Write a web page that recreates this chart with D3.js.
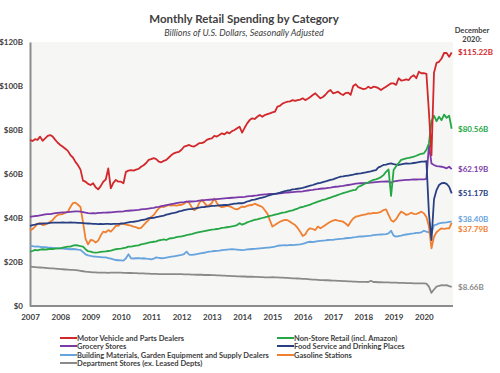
<!DOCTYPE html>
<html>
<head>
<meta charset="utf-8">
<script src="https://cdn.jsdelivr.net/npm/d3@7"></script>
<style>
  body { margin: 0; background: #fff; }
  svg text { font-family: Lato, "Open Sans", sans-serif; fill: #404040; }
</style>
</head>
<body>
<div id="SVG_CONTAINER"></div>
<script>
// monthly values, Jan 2007 .. Dec 2020 ($ billions), one row per year
const motorVehicle = [
  75.5, 75.0, 75.8, 75.5, 77.0, 75.1, 76.2, 77.3, 77.7, 77.0, 75.5, 74.2,
  73.2, 72.4, 71.5, 70.5, 68.6, 67.5, 65.5, 64.0, 62.0, 57.0, 56.5, 55.5,
  55.0, 55.8, 54.0, 53.0, 54.5, 56.5, 57.5, 62.5, 53.5, 56.0, 57.3, 56.5,
  56.5, 55.8, 61.0, 61.5, 61.8, 61.5, 62.0, 62.3, 63.3, 64.0, 65.0, 66.4,
  66.8, 67.2, 66.8, 65.6, 65.3, 66.0, 66.4, 67.5, 68.6, 69.4, 69.8, 70.1,
  71.0, 72.4, 72.8, 73.2, 72.7, 72.5, 73.2, 74.0, 74.0, 74.5, 75.5, 76.0,
  76.2, 77.3, 77.0, 77.7, 78.5, 78.0, 79.0, 78.5, 79.5, 80.0, 80.8, 81.5,
  78.8, 81.0, 83.0, 84.5, 85.3, 85.0, 86.0, 86.8, 86.0, 86.8, 87.2, 87.6,
  88.0, 88.3, 90.6, 91.0, 92.0, 92.5, 92.9, 93.0, 93.6, 93.2, 93.6, 93.8,
  94.4, 93.6, 94.2, 95.0, 95.9, 96.7, 95.5, 94.4, 95.0, 96.0, 97.4, 98.2,
  96.7, 97.0, 97.4, 96.5, 95.9, 96.8, 97.0, 96.0, 100.0, 100.8, 99.5, 99.0,
  98.6, 98.8, 99.7, 99.0, 99.7, 99.5, 99.0, 98.2, 99.0, 99.7, 100.5, 101.2,
  101.2, 100.5, 103.5, 102.5, 102.7, 103.0, 102.7, 104.2, 104.9, 103.5, 106.5, 105.8,
  105.8, 105.5, 88.0, 68.5, 106.0, 110.5, 111.0, 112.5, 115.0, 115.0, 113.3, 115.22
];
const nonStore = [
  24.7, 25.0, 25.5, 25.3, 25.6, 25.8, 25.6, 25.8, 26.0, 25.9, 26.1, 26.2,
  26.2, 26.5, 26.8, 27.0, 27.0, 27.4, 27.7, 27.5, 27.2, 27.0, 25.8, 24.9,
  24.7, 24.4, 24.3, 24.4, 24.6, 24.7, 24.8, 25.0, 25.2, 25.5, 25.8, 26.0,
  26.1, 26.3, 26.5, 27.0, 27.0, 27.2, 27.4, 27.6, 28.0, 28.2, 28.5, 28.8,
  29.0, 29.2, 29.4, 29.8, 30.0, 30.3, 30.0, 30.6, 30.8, 31.0, 31.3, 31.5,
  31.6, 31.9, 32.2, 32.5, 32.7, 33.0, 33.3, 33.6, 33.8, 34.0, 34.3, 34.5,
  34.7, 34.8, 35.0, 35.2, 35.5, 35.6, 35.8, 36.0, 36.2, 36.4, 36.8, 37.6,
  37.0, 37.4, 38.0, 38.4, 38.8, 39.2, 39.4, 39.7, 40.0, 40.3, 40.6, 41.0,
  41.2, 41.5, 41.8, 42.1, 42.4, 42.6, 42.9, 43.2, 43.5, 43.9, 44.3, 44.8,
  45.0, 45.4, 45.7, 46.1, 46.6, 47.0, 47.4, 47.8, 48.2, 48.5, 48.9, 49.3,
  49.7, 50.1, 50.5, 50.9, 51.3, 51.6, 52.0, 52.3, 52.7, 52.8, 54.2, 54.6,
  55.2, 55.8, 56.2, 56.8, 57.3, 57.6, 58.0, 58.6, 59.5, 61.0, 62.1, 50.0,
  61.8, 63.5, 65.0, 66.4, 66.8, 67.1, 67.3, 67.6, 67.9, 68.3, 68.8, 69.2,
  69.4, 71.0, 74.0, 84.0, 86.5, 84.0, 86.0, 84.5, 87.0, 85.5, 86.5, 80.56
];
const grocery = [
  40.5, 40.7, 40.9, 41.0, 41.2, 41.4, 41.6, 41.8, 41.8, 42.0, 42.2, 42.3,
  42.4, 42.5, 42.6, 42.7, 42.8, 42.9, 43.0, 43.0, 42.9, 42.7, 42.4, 42.2,
  42.1, 42.2, 42.1, 42.3, 42.3, 42.4, 42.4, 42.5, 42.6, 42.7, 42.8, 42.9,
  42.9, 43.0, 43.2, 43.3, 43.4, 43.5, 43.6, 43.7, 43.9, 44.0, 44.1, 44.3,
  44.5, 44.6, 44.9, 45.1, 45.4, 45.6, 45.9, 46.1, 46.3, 46.5, 46.8, 47.0,
  47.1, 47.2, 47.4, 47.5, 47.5, 47.6, 47.7, 47.9, 48.0, 48.1, 48.2, 48.3,
  48.4, 48.5, 48.6, 48.7, 48.8, 48.9, 49.0, 49.1, 49.2, 49.3, 49.4, 49.5,
  49.5, 49.6, 49.8, 49.9, 50.0, 50.2, 50.3, 50.5, 50.6, 50.7, 50.8, 51.0,
  51.0, 51.0, 51.1, 51.2, 51.3, 51.5, 51.6, 51.7, 51.8, 51.9, 52.0, 52.0,
  52.1, 52.3, 52.5, 52.7, 52.8, 53.0, 53.1, 53.3, 53.4, 53.5, 53.7, 53.8,
  54.0, 54.2, 54.3, 54.5, 54.6, 54.8, 55.0, 55.2, 55.4, 55.6, 55.7, 55.8,
  55.8, 55.9, 56.0, 56.1, 56.2, 56.3, 56.4, 56.5, 56.5, 56.6, 56.6, 56.0,
  56.6, 56.8, 57.0, 57.1, 57.2, 57.3, 57.3, 57.4, 57.5, 57.5, 57.6, 57.6,
  57.6, 57.8, 73.2, 64.8, 64.1, 63.6, 63.5, 63.3, 63.0, 62.6, 63.3, 62.19
];
const foodService = [
  36.4, 36.8, 37.0, 37.3, 37.3, 37.5, 37.6, 37.6, 37.8, 37.9, 37.9, 37.9,
  37.9, 38.0, 37.9, 37.9, 38.0, 37.9, 37.9, 37.8, 37.8, 37.7, 37.6, 37.5,
  37.4, 37.3, 37.3, 37.2, 37.3, 37.2, 37.3, 37.3, 37.2, 37.3, 37.3, 37.3,
  37.4, 37.5, 37.8, 38.0, 38.2, 38.3, 38.5, 38.7, 39.0, 39.2, 39.5, 39.9,
  40.0, 40.1, 40.4, 40.6, 40.9, 41.1, 41.5, 41.8, 42.1, 42.3, 42.6, 43.0,
  43.2, 43.6, 43.8, 44.0, 44.0, 44.3, 44.5, 44.7, 44.9, 45.0, 45.2, 45.3,
  45.5, 45.5, 45.6, 45.7, 45.8, 45.9, 45.9, 46.1, 46.3, 46.5, 46.6, 46.8,
  46.7, 47.0, 47.5, 47.8, 48.2, 48.4, 48.7, 49.0, 49.3, 49.6, 50.0, 50.4,
  50.7, 51.0, 51.2, 51.5, 51.9, 52.2, 52.5, 52.7, 53.0, 53.1, 53.3, 53.5,
  53.7, 54.0, 54.4, 54.7, 55.0, 55.4, 55.8, 56.0, 56.3, 56.6, 57.0, 57.3,
  57.6, 58.0, 58.4, 58.8, 58.9, 59.1, 59.3, 59.5, 59.7, 60.0, 60.2, 60.3,
  60.5, 60.7, 61.0, 61.2, 61.5, 61.8, 63.0, 63.5, 64.1, 64.3, 64.6, 64.8,
  64.5, 64.3, 64.1, 64.4, 64.6, 64.8, 64.7, 64.8, 65.0, 65.2, 65.4, 65.6,
  65.6, 65.8, 42.0, 30.0, 48.5, 52.7, 55.0, 55.8, 56.0, 55.5, 54.2, 51.17
];
const building = [
  27.3, 27.2, 27.0, 27.1, 26.9, 26.7, 26.8, 26.6, 26.5, 26.4, 26.3, 26.2,
  26.2, 26.1, 26.0, 25.9, 25.8, 25.9, 25.8, 25.6, 25.5, 24.5, 23.5, 23.0,
  22.8, 22.5, 22.4, 22.3, 22.2, 22.1, 22.1, 21.8, 21.5, 21.2, 20.9, 20.8,
  20.7, 20.6, 21.7, 23.5, 21.7, 21.6, 21.7, 21.8, 21.6, 21.7, 21.5, 21.4,
  21.2, 21.5, 22.1, 21.9, 21.7, 21.8, 22.0, 22.2, 22.4, 22.6, 22.8, 23.0,
  23.2, 23.6, 24.7, 23.4, 23.2, 23.4, 23.6, 23.8, 24.0, 24.2, 24.5, 24.7,
  24.8, 25.0, 25.1, 25.2, 25.4, 25.5, 25.6, 25.7, 25.8, 25.7, 25.6, 25.5,
  25.4, 25.5, 25.7, 25.8, 25.9, 26.0, 26.1, 26.2, 26.3, 26.4, 26.5, 26.6,
  26.8, 27.0, 27.3, 27.5, 27.6, 27.7, 27.6, 27.8, 27.7, 27.8, 27.9, 28.0,
  28.2, 28.6, 29.0, 29.2, 29.0, 29.3, 29.5, 29.6, 29.7, 29.8, 30.0, 30.1,
  30.1, 30.3, 30.4, 30.5, 30.6, 30.8, 30.9, 31.0, 31.2, 31.3, 31.5, 31.6,
  31.6, 31.8, 31.9, 32.0, 32.2, 32.3, 32.4, 32.5, 32.6, 32.7, 33.0, 34.2,
  32.0, 31.5, 31.8, 32.0, 32.3, 32.5, 32.7, 32.9, 33.0, 33.2, 33.3, 33.5,
  34.2, 33.8, 33.5, 33.0, 36.8, 37.0, 37.6, 37.8, 37.9, 38.0, 38.2, 38.40
];
const gasoline = [
  34.2, 35.0, 36.1, 37.3, 37.8, 36.8, 37.0, 37.6, 38.3, 39.1, 40.5, 41.4,
  41.6, 41.8, 42.4, 42.9, 45.0, 46.8, 47.0, 46.0, 45.0, 38.0, 30.5, 28.0,
  30.0, 29.8, 28.8, 29.7, 32.0, 33.8, 33.5, 34.5, 33.8, 35.0, 36.4, 36.4,
  37.6, 37.3, 37.0, 36.8, 36.5, 36.1, 35.8, 35.3, 35.5, 36.8, 38.0, 39.1,
  40.5, 41.4, 43.0, 44.4, 45.2, 45.0, 45.5, 45.9, 45.6, 45.9, 45.6, 45.9,
  46.0, 46.5, 47.4, 47.0, 45.0, 43.6, 44.2, 46.8, 48.2, 47.0, 45.5, 45.8,
  46.8, 48.9, 46.8, 45.4, 44.9, 45.2, 45.5, 45.3, 44.8, 44.2, 43.9, 44.5,
  45.2, 45.0, 45.5, 45.8, 45.9, 46.5, 46.0, 45.5, 45.0, 43.5, 42.0, 39.0,
  36.1, 36.8, 37.6, 38.3, 38.8, 39.1, 39.0, 38.3, 37.5, 36.8, 35.5, 33.8,
  31.8, 32.5, 34.5, 35.3, 35.0, 34.5, 36.1, 35.3, 36.0, 36.8, 37.6, 38.3,
  38.8, 39.1, 38.8, 38.6, 38.3, 37.5, 36.4, 38.3, 39.8, 40.6, 40.9, 41.2,
  41.4, 41.6, 42.1, 42.0, 42.3, 42.2, 42.4, 42.8, 43.6, 43.9, 41.4, 39.0,
  38.3, 39.5, 41.4, 42.9, 42.3, 41.4, 41.8, 42.4, 41.9, 41.8, 42.3, 42.9,
  42.1, 40.5, 36.1, 26.2, 31.5, 33.5, 34.5, 35.3, 35.0, 35.3, 35.3, 37.79
];
const department = [
  17.9, 17.8, 17.7, 17.6, 17.5, 17.4, 17.3, 17.2, 17.1, 17.1, 17.0, 16.9,
  16.8, 16.7, 16.6, 16.5, 16.4, 16.4, 16.3, 16.2, 16.0, 15.8, 15.6, 15.5,
  15.4, 15.3, 15.3, 15.2, 15.2, 15.2, 15.2, 15.1, 15.2, 15.2, 15.2, 15.2,
  15.2, 15.1, 15.1, 15.0, 15.0, 14.9, 14.9, 14.8, 14.8, 14.8, 14.7, 14.7,
  14.6, 14.6, 14.6, 14.5, 14.5, 14.5, 14.5, 14.5, 14.5, 14.5, 14.5, 14.5,
  14.5, 14.4, 14.4, 14.4, 14.3, 14.3, 14.2, 14.2, 14.2, 14.1, 14.1, 14.1,
  14.0, 14.0, 13.9, 13.9, 13.8, 13.8, 13.7, 13.7, 13.6, 13.6, 13.5, 13.5,
  13.4, 13.4, 13.3, 13.3, 13.3, 13.2, 13.2, 13.1, 13.1, 13.0, 13.0, 13.0,
  13.1, 13.0, 13.0, 12.9, 12.9, 12.8, 12.8, 12.7, 12.6, 12.6, 12.5, 12.4,
  12.3, 12.3, 12.2, 12.1, 12.0, 12.0, 11.9, 11.8, 11.8, 11.7, 11.7, 11.6,
  11.5, 11.5, 11.4, 11.4, 11.3, 11.3, 11.2, 11.2, 11.1, 11.1, 11.0, 11.0,
  11.0, 11.0, 10.9, 11.5, 10.9, 10.9, 10.8, 10.8, 10.7, 10.7, 10.7, 10.6,
  10.6, 10.6, 10.5, 10.5, 10.5, 10.4, 10.4, 10.4, 10.3, 10.3, 10.3, 10.3,
  10.3, 10.2, 8.8, 6.0, 7.5, 8.8, 9.2, 9.5, 9.4, 9.5, 9.0, 8.66
];

const seriesNames = [
  "Motor Vehicle and Parts Dealers",
  "Non-Store Retail (incl. Amazon)",
  "Grocery Stores",
  "Food Service and Drinking Places",
  "Building Materials, Garden Equipment and Supply Dealers",
  "Gasoline Stations",
  "Department Stores (ex. Leased Depts)"
];
const endLabels = ["$115.22B", "$80.56B", "$62.19B", "$51.17B", "$38.40B", "$37.79B", "$8.66B"];
const yearLabels = ["2007", "2008", "2009", "2010", "2011", "2012", "2013",
                    "2014", "2015", "2016", "2017", "2018", "2019", "2020"];
const yTicks = [0, 20, 40, 60, 80, 100, 120];

const colors = ["#d2282b", "#25a745", "#7a3ba8", "#283f82", "#67a3dd", "#f07f30", "#8a8a8a"];
const allSeries = [motorVehicle, nonStore, grocery, foodService, building, gasoline, department];

const width = 500, height = 373;
const plot = { left: 30, right: 453, top: 42, bottom: 306 };

const svg = d3.select("#SVG_CONTAINER").append("svg")
    .attr("width", width)
    .attr("height", height);

// month index scale (0 = Jan 2007)
const x = d3.scaleLinear()
    .domain([0, 167])
    .range([plot.left, plot.left + 167 * 2.525]);
const y = d3.scaleLinear()
    .domain([0, 120])
    .range([plot.bottom, plot.top]);

// plot background
svg.append("rect")
    .attr("x", plot.left)
    .attr("y", plot.top)
    .attr("width", plot.right - plot.left)
    .attr("height", plot.bottom - plot.top)
    .attr("fill", "#f6f6f5");

// title
svg.append("text")
    .attr("x", 244).attr("y", 23)
    .attr("text-anchor", "middle")
    .attr("font-size", "11.5px")
    .attr("font-weight", "bold")
    .text("Monthly Retail Spending by Category");
svg.append("text")
    .attr("x", 244).attr("y", 36)
    .attr("text-anchor", "middle")
    .attr("font-size", "9px")
    .attr("font-style", "italic")
    .text("Billions of U.S. Dollars, Seasonally Adjusted");

// y axis
const yAxis = svg.append("g")
    .attr("transform", "translate(" + plot.left + ",0)")
    .call(d3.axisLeft(y).tickValues(yTicks).tickSize(0).tickPadding(7)
        .tickFormat(d => d === 0 ? "$0" : "$" + d + "B"));
yAxis.select(".domain").attr("stroke", "#8c8c8c").attr("stroke-width", 2);
yAxis.selectAll("text").attr("font-size", "8px").attr("font-weight", "bold")
    .style("font-family", "Lato, sans-serif").attr("fill", "#404040");

// x axis
const xAxis = svg.append("g")
    .attr("transform", "translate(0," + plot.bottom + ")")
    .call(d3.axisBottom(x).tickValues(yearLabels.map((d, i) => i * 12)).tickSize(0).tickPadding(8)
        .tickFormat((d, i) => yearLabels[i]));
xAxis.select(".domain").attr("stroke", "#8c8c8c").attr("stroke-width", 2)
    .attr("d", "M" + plot.left + ",0H" + plot.right);
xAxis.selectAll("text").attr("font-size", "8px").attr("font-weight", "bold")
    .style("font-family", "Lato, sans-serif").attr("fill", "#404040");

// lines (drawn back to front)
const line = d3.line()
    .x((d, i) => x(i))
    .y(d => y(d));
const drawOrder = [6, 4, 5, 2, 3, 1, 0];
drawOrder.forEach(function (k) {
    svg.append("path")
        .datum(allSeries[k])
        .attr("fill", "none")
        .attr("stroke", colors[k])
        .attr("stroke-width", 1.8)
        .attr("stroke-linejoin", "round")
        .attr("d", line);
});

// end-of-series labels
svg.append("text")
    .attr("x", 472).attr("y", 33)
    .attr("text-anchor", "middle")
    .attr("font-size", "7.5px").attr("font-weight", "bold")
    .text("December");
svg.append("text")
    .attr("x", 472).attr("y", 42)
    .attr("text-anchor", "middle")
    .attr("font-size", "7.5px").attr("font-weight", "bold")
    .text("2020:");

const labelNudge = [0, 0, 0, 0, -2.5, 6, 0];
allSeries.forEach(function (s, k) {
    svg.append("text")
        .attr("x", 458)
        .attr("y", y(s[s.length - 1]) + labelNudge[k])
        .attr("dy", "0.35em")
        .attr("font-size", "8px")
        .attr("font-weight", "bold")
        .style("fill", colors[k])
        .text(endLabels[k]);
});

// legend, two columns
const legendPos = [
    [60, 338], [277, 338],
    [60, 346], [277, 346],
    [60, 355], [277, 355],
    [60, 363]
];
seriesNames.forEach(function (name, k) {
    const lx = legendPos[k][0], ly = legendPos[k][1];
    svg.append("line")
        .attr("x1", lx).attr("x2", lx + 17)
        .attr("y1", ly).attr("y2", ly)
        .attr("stroke", colors[k])
        .attr("stroke-width", 2);
    svg.append("text")
        .attr("x", lx + 17)
        .attr("y", ly)
        .attr("dy", "0.35em")
        .attr("font-size", "7.5px")
        .attr("font-weight", "bold")
        .text(name);
});
</script>
</body>
</html>
